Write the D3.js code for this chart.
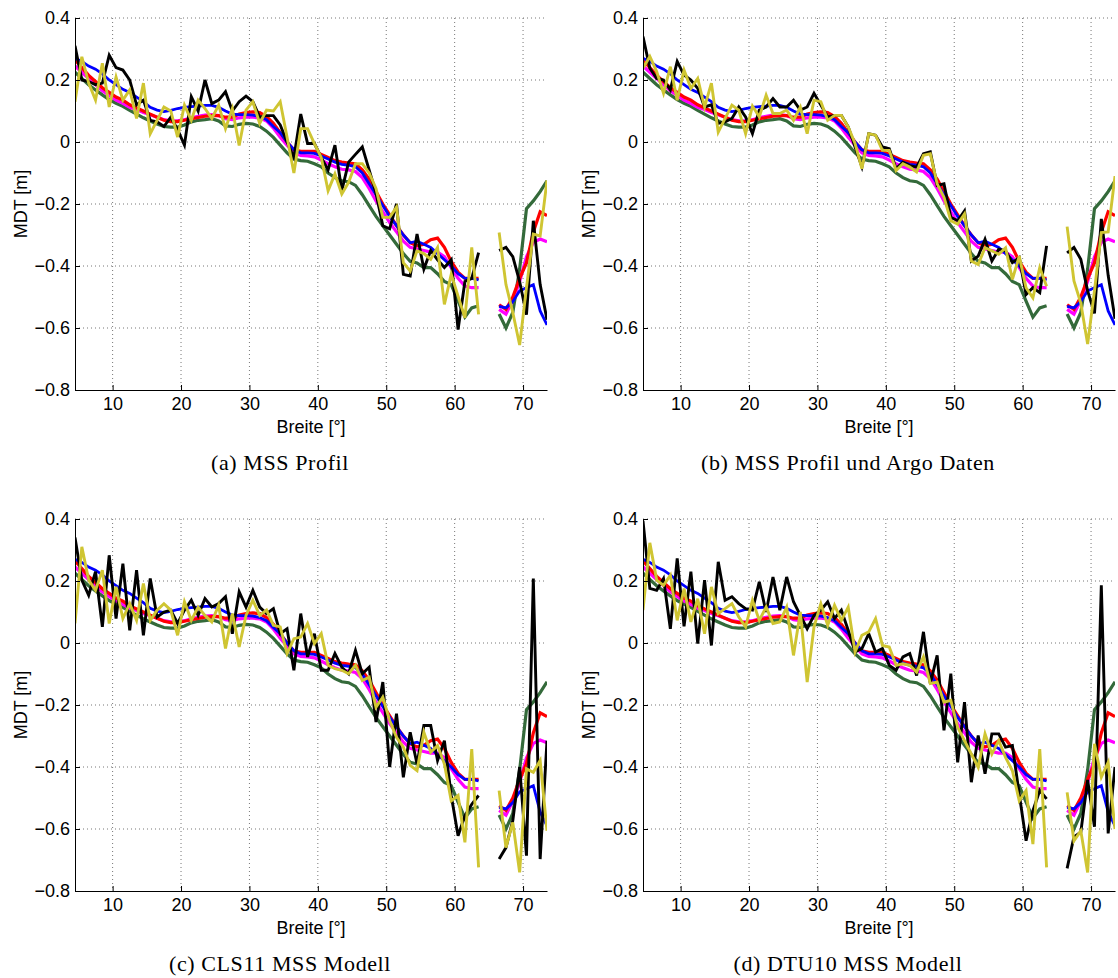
<!DOCTYPE html>
<html>
<head>
<meta charset="utf-8">
<script src="https://cdn.jsdelivr.net/npm/d3@7"></script>
<style>
body { margin: 0; background: #fff; }
svg text { font-family: "Liberation Sans", Arial, Helvetica, sans-serif; }
</style>
</head>
<body>
<div id="app"></div>
<script>
// latitude samples (gap at 64.5 / 65.5)
const lat = [4.5,5.5,6.5,7.5,8.5,9.5,10.5,11.5,12.5,13.5,14.5,15.5,16.5,17.5,18.5,19.5,20.5,21.5,22.5,23.5,
  24.5,25.5,26.5,27.5,28.5,29.5,30.5,31.5,32.5,33.5,34.5,35.5,36.5,37.5,38.5,39.5,40.5,41.5,42.5,43.5,
  44.5,45.5,46.5,47.5,48.5,49.5,50.5,51.5,52.5,53.5,54.5,55.5,56.5,57.5,58.5,59.5,60.5,61.5,62.5,63.5,
  64.5,65.5,66.5,67.5,68.5,69.5,70.5,71.5,72.5,73.5];

const xTicks = [10, 20, 30, 40, 50, 60, 70];
const yTicks = [-0.8, -0.6, -0.4, -0.2, 0, 0.2, 0.4];
const captions = ["(a) MSS Profil", "(b) MSS Profil und Argo Daten", "(c) CLS11 MSS Modell", "(d) DTU10 MSS Modell"];

// smooth model curves, same in every panel
const blue = [0.27,0.26,0.245,0.235,0.22,0.20,0.185,0.17,0.16,0.145,
  0.13,0.112,0.103,0.098,0.102,0.108,0.112,0.114,0.116,0.118,
  0.118,0.112,0.10,0.09,0.088,0.088,0.087,0.082,0.072,0.05,
  0.03,0.0,-0.025,-0.035,-0.035,-0.037,-0.045,-0.055,-0.065,-0.072,
  -0.075,-0.08,-0.10,-0.135,-0.17,-0.205,-0.24,-0.27,-0.30,-0.325,
  -0.32,-0.33,-0.34,-0.36,-0.38,-0.40,-0.425,-0.44,-0.44,-0.445,
  null,null,
  -0.53,-0.535,-0.515,-0.48,-0.47,-0.46,-0.545,-0.59];
const red = [0.265,0.24,0.215,0.195,0.175,0.16,0.145,0.135,0.12,0.11,
  0.10,0.09,0.08,0.07,0.066,0.066,0.07,0.075,0.079,0.083,
  0.085,0.085,0.08,0.08,0.09,0.095,0.097,0.095,0.082,0.06,
  0.03,0.0,-0.025,-0.03,-0.03,-0.03,-0.04,-0.05,-0.06,-0.065,
  -0.068,-0.07,-0.09,-0.12,-0.16,-0.20,-0.235,-0.27,-0.30,-0.325,
  -0.335,-0.33,-0.315,-0.31,-0.34,-0.385,-0.42,-0.44,-0.44,-0.44,
  null,null,
  -0.525,-0.54,-0.50,-0.44,-0.39,-0.29,-0.225,-0.237];
const magenta = [0.245,0.225,0.205,0.185,0.165,0.15,0.135,0.125,0.112,0.105,
  0.095,0.088,0.08,0.072,0.068,0.068,0.072,0.078,0.083,0.087,
  0.088,0.085,0.075,0.072,0.078,0.08,0.08,0.078,0.068,0.045,
  0.015,-0.01,-0.035,-0.043,-0.045,-0.048,-0.058,-0.07,-0.08,-0.088,
  -0.09,-0.095,-0.115,-0.15,-0.19,-0.225,-0.26,-0.29,-0.32,-0.34,
  -0.345,-0.35,-0.355,-0.355,-0.37,-0.405,-0.44,-0.465,-0.47,-0.47,
  null,null,
  -0.54,-0.555,-0.51,-0.45,-0.37,-0.324,-0.313,-0.322];
const green = [0.225,0.205,0.185,0.168,0.152,0.137,0.125,0.115,0.102,0.09,
  0.078,0.068,0.058,0.05,0.048,0.048,0.055,0.065,0.07,0.072,
  0.075,0.068,0.052,0.05,0.057,0.06,0.058,0.05,0.035,0.015,
  -0.01,-0.035,-0.055,-0.06,-0.062,-0.07,-0.08,-0.10,-0.115,-0.125,
  -0.128,-0.14,-0.17,-0.205,-0.24,-0.27,-0.30,-0.33,-0.36,-0.385,
  -0.39,-0.405,-0.405,-0.425,-0.45,-0.46,-0.513,-0.565,-0.535,-0.528,
  null,null,
  -0.555,-0.60,-0.55,-0.41,-0.215,-0.19,-0.16,-0.125];

// profile curves, one pair per panel
const blackA = [0.31,0.20,0.195,0.185,0.19,0.28,0.24,0.232,0.20,0.12,
  0.135,0.07,0.065,0.05,0.08,0.04,-0.01,0.146,0.10,0.20,
  0.124,0.135,0.162,0.10,0.13,0.148,0.13,0.08,0.085,0.085,
  0.055,0.0,-0.05,0.09,-0.005,-0.005,-0.05,-0.09,-0.01,-0.157,
  -0.065,-0.04,-0.016,-0.09,-0.165,-0.27,-0.28,-0.2,-0.427,-0.432,
  -0.297,-0.41,-0.35,-0.38,-0.405,-0.38,-0.605,-0.45,-0.44,-0.357,
  null,null,
  -0.35,-0.34,-0.37,-0.45,-0.557,-0.254,-0.46,-0.573];
const yellowA = [0.13,0.275,0.19,0.135,0.254,0.113,0.21,0.135,0.168,0.076,
  0.19,0.027,0.07,0.113,0.10,0.016,0.119,0.07,0.135,0.108,
  0.076,0.119,0.043,0.108,-0.011,0.103,0.13,0.06,0.103,0.10,
  0.13,0.015,-0.10,0.043,0.043,-0.005,-0.05,-0.157,-0.103,-0.168,
  -0.13,-0.07,-0.07,-0.10,-0.15,-0.243,-0.243,-0.21,-0.389,-0.416,
  -0.351,-0.36,-0.378,-0.34,-0.524,-0.427,-0.497,-0.567,-0.34,-0.556,
  null,null,
  -0.292,-0.46,-0.55,-0.655,-0.47,-0.297,-0.303,-0.124];
const blackB = [0.34,0.238,0.205,0.2,0.168,0.26,0.216,0.2,0.173,0.113,
  0.12,0.06,0.065,0.076,0.113,0.081,0.027,0.103,0.113,0.14,
  0.113,0.113,0.135,0.103,0.113,0.157,0.119,0.081,0.086,0.086,
  0.049,-0.016,-0.08,0.027,0.022,-0.016,-0.022,-0.086,-0.065,-0.076,
  -0.081,-0.038,-0.032,-0.14,-0.135,-0.243,-0.254,-0.222,-0.384,-0.368,
  -0.314,-0.384,-0.346,-0.351,-0.389,-0.373,-0.492,-0.47,-0.486,-0.335,
  null,null,
  -0.358,-0.34,-0.378,-0.48,-0.553,-0.248,-0.43,-0.57];
const yellowB = [0.238,0.276,0.227,0.157,0.243,0.135,0.232,0.173,0.205,0.113,
  0.19,0.032,0.076,0.119,0.103,0.027,0.116,0.081,0.151,0.092,
  0.092,0.103,0.07,0.113,0.027,0.135,0.13,0.07,0.086,0.086,
  0.049,-0.005,-0.086,0.027,0.022,-0.027,-0.027,-0.092,-0.07,-0.081,
  -0.097,-0.043,-0.038,-0.135,-0.178,-0.254,-0.265,-0.232,-0.384,-0.395,
  -0.341,-0.351,-0.362,-0.341,-0.443,-0.368,-0.47,-0.503,-0.405,-0.465,
  null,null,
  -0.273,-0.448,-0.52,-0.652,-0.48,-0.292,-0.29,-0.11];
const blackC = [0.34,0.203,0.154,0.23,0.052,0.283,0.079,0.256,0.041,0.235,
  0.025,0.208,0.084,0.10,0.106,0.063,0.106,0.138,0.089,0.143,
  0.116,0.127,0.149,0.03,0.165,0.116,0.17,0.116,0.095,0.111,
  0.03,0.046,-0.088,0.095,-0.045,0.03,-0.088,-0.088,-0.034,-0.078,
  -0.099,-0.024,-0.099,-0.078,-0.255,-0.126,-0.40,-0.228,-0.433,-0.288,
  -0.39,-0.266,-0.266,-0.379,-0.315,-0.492,-0.622,-0.557,-0.52,-0.492,
  null,null,
  -0.697,-0.66,-0.573,-0.40,-0.686,0.208,-0.697,-0.315];
const yellowC = [0.063,0.31,0.203,0.17,0.235,0.063,0.181,0.079,0.127,0.073,
  0.192,0.073,0.106,0.127,0.106,0.025,0.133,0.073,0.116,0.089,
  0.068,0.122,-0.018,0.095,-0.013,0.089,0.138,0.089,0.106,0.057,
  0.052,-0.034,0.014,0.019,0.063,-0.002,0.03,-0.072,-0.083,-0.088,
  -0.099,-0.072,-0.121,-0.11,-0.207,-0.175,-0.25,-0.304,-0.336,-0.395,
  -0.412,-0.288,-0.352,-0.331,-0.39,-0.509,-0.492,-0.643,-0.342,-0.724,
  null,null,
  -0.476,-0.66,-0.579,-0.74,-0.406,-0.417,-0.379,-0.606];
const blackD = [0.394,0.176,0.17,0.208,0.046,0.273,0.054,0.23,-0.002,0.203,
  -0.008,0.262,0.138,0.149,0.127,0.111,0.106,0.197,0.10,0.213,
  0.106,0.213,0.133,0.089,0.046,0.089,0.106,0.133,0.079,0.106,
  0.041,-0.029,-0.018,0.03,-0.029,-0.018,-0.072,-0.088,-0.045,-0.034,
  -0.105,0.036,-0.131,-0.04,-0.282,-0.099,-0.385,-0.191,-0.449,-0.298,
  -0.422,-0.293,-0.293,-0.336,-0.331,-0.487,-0.638,-0.541,-0.476,-0.503,
  null,null,
  -0.727,-0.625,-0.61,-0.442,-0.593,0.186,-0.614,-0.40];
const yellowD = [0.106,0.323,0.203,0.186,0.219,0.073,0.176,0.068,0.143,0.03,
  0.181,0.095,0.111,0.127,0.084,0.052,0.138,0.073,0.116,0.063,
  0.068,0.116,-0.04,0.10,-0.126,0.052,0.127,0.057,0.122,0.073,
  0.116,-0.029,0.025,0.036,0.079,-0.008,-0.013,-0.072,-0.067,-0.072,
  -0.094,-0.045,-0.131,-0.126,-0.191,-0.185,-0.272,-0.315,-0.358,-0.401,
  -0.293,-0.358,-0.315,-0.369,-0.412,-0.509,-0.476,-0.649,-0.342,-0.724,
  null,null,
  -0.482,-0.638,-0.606,-0.74,-0.325,-0.433,-0.385,-0.60];

const W = 1118, H = 978;
const pw = 472, ph = 372;

const svg = d3.select("#app").append("svg")
    .attr("width", W)
    .attr("height", H);

const panels = [
    { left: 75,  top: 18,  black: blackA, yellow: yellowA, caption: captions[0] },
    { left: 643, top: 18,  black: blackB, yellow: yellowB, caption: captions[1] },
    { left: 75,  top: 519, black: blackC, yellow: yellowC, caption: captions[2] },
    { left: 643, top: 519, black: blackD, yellow: yellowD, caption: captions[3] },
];

const x = d3.scaleLinear().domain([4.5, 73.5]).range([0, pw]);
const y = d3.scaleLinear().domain([-0.8, 0.4]).range([ph, 0]);
const fmt = d => d === 0 ? "0" : d3.format(".1f")(d);

const line = d3.line()
    .defined(d => d[1] != null)
    .x(d => x(d[0]))
    .y(d => y(d[1]));
const pts = vals => lat.map((v, i) => [v, vals[i]]);

panels.forEach((p, k) => {
    const g = svg.append("g").attr("transform", `translate(${p.left},${p.top})`);

    g.append("clipPath").attr("id", `clip${k}`)
        .append("rect").attr("x", 0).attr("y", -2).attr("width", pw).attr("height", ph + 4);

    // dotted grid
    g.append("g").selectAll("line").data(xTicks).enter().append("line")
        .attr("x1", d => x(d)).attr("x2", d => x(d))
        .attr("y1", 0).attr("y2", ph)
        .attr("stroke", "#777").attr("stroke-width", 1).attr("stroke-dasharray", "1,3");
    g.append("g").selectAll("line").data(yTicks.filter(d => d > -0.8)).enter().append("line")
        .attr("x1", 0).attr("x2", pw)
        .attr("y1", d => y(d)).attr("y2", d => y(d))
        .attr("stroke", "#777").attr("stroke-width", 1).attr("stroke-dasharray", "1,3");

    // curves
    const series = [
        { v: green,   c: "#346a3a", w: 3.2 },
        { v: magenta, c: "#ff00ff", w: 3.2 },
        { v: red,     c: "#ff0000", w: 3.2 },
        { v: blue,    c: "#0000ff", w: 2.8 },
        { v: p.black, c: "#000000", w: 2.9 },
        { v: p.yellow, c: "#cfc532", w: 2.9 },
    ];
    const lines = g.append("g").attr("clip-path", `url(#clip${k})`);
    series.forEach(s => {
        lines.append("path")
            .datum(pts(s.v))
            .attr("fill", "none")
            .attr("stroke", s.c)
            .attr("stroke-width", s.w)
            .attr("d", line);
    });

    // axes
    const ax = g.append("g")
        .attr("transform", `translate(0,${ph})`)
        .call(d3.axisBottom(x).tickValues(xTicks).tickSize(-5).tickSizeOuter(0).tickPadding(7));
    const ay = g.append("g")
        .call(d3.axisLeft(y).tickValues(yTicks).tickFormat(fmt).tickSize(-5).tickSizeOuter(0).tickPadding(5));
    [ax, ay].forEach(a => {
        a.selectAll("text").attr("font-size", "18px").attr("fill", "#000")
            .attr("font-family", "'Liberation Sans', Arial, sans-serif");
        a.select(".domain").attr("stroke", "#000");
        a.selectAll(".tick line").attr("stroke", "#000");
    });

    g.append("text")
        .attr("x", pw / 2).attr("y", ph + 43)
        .attr("text-anchor", "middle")
        .attr("font-size", "18px")
        .text("Breite [°]");

    g.append("text")
        .attr("transform", `translate(-48,${ph / 2}) rotate(-90)`)
        .attr("text-anchor", "middle")
        .attr("font-size", "18px")
        .text("MDT [m]");

    g.append("text")
        .attr("x", pw / 2 - 31).attr("y", ph + 80)
        .attr("text-anchor", "middle")
        .attr("font-size", "22px")
        .attr("letter-spacing", "0.6px")
        .style("font-family", "'Liberation Serif', 'Times New Roman', serif")
        .text(p.caption);
});
</script>
</body>
</html>
